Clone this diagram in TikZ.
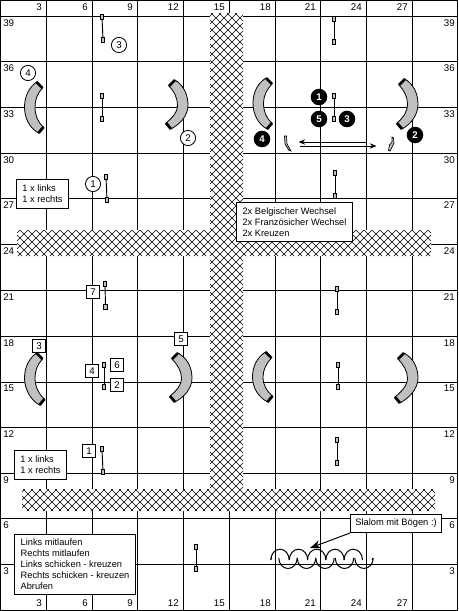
\documentclass[tikz,border=0pt]{standalone}
\usepackage{fontspec}
\setmainfont{Liberation Sans}
\usetikzlibrary{arrows.meta}
\definecolor{gatefill}{RGB}{192,192,192}
\tikzset{
  gridline/.style={line width=0.75pt,black},
  hatchline/.style={line width=0.45pt,black},
  axislabel/.style={inner sep=0pt,font=\fontsize{7.3}{9}\selectfont},
  postnode/.style={draw,fill=gatefill,line width=0.6pt,inner sep=0pt,minimum width=2.8pt,minimum height=3.8pt},
  barline/.style={line width=0.7pt,black},
  whitecircle/.style={circle,draw,fill=white,line width=0.6pt,inner sep=0pt,minimum size=11.4pt,font=\fontsize{7.3}{9}\selectfont},
  blackcircle/.style={circle,fill=black,text=white,inner sep=0pt,minimum size=12.4pt,font=\fontsize{7.3}{9}\selectfont\bfseries},
  squarebox/.style={draw,fill=white,line width=0.75pt,inner sep=0pt,minimum width=9.4pt,minimum height=10pt,font=\fontsize{7.3}{9}\selectfont},
  notebox/.style={draw,fill=white,line width=0.75pt,inner sep=0pt,align=left,anchor=north west,font=\fontsize{6.95}{8.25}\selectfont},
  arrowline/.style={line width=0.75pt,-{Stealth[length=5pt,width=4pt]}},
  wing/.style={draw=black,fill=gatefill,line width=0.5pt},
  tunnelbody/.style={draw=black,fill=gatefill,line width=0.6pt},
  tunnelcap/.style={line width=2.1pt,black},
  slalomline/.style={line width=0.75pt,black}
}
\newcommand{\mygate}[5]{%
  \node[postnode] (#1a) at (#2,#3) {};
  \node[postnode] (#1b) at (#4,#5) {};
  \draw[barline] (#1a) -- (#1b);
}
% x y dir bottom-outer-dx bottom-outer-dy top-outer-dx
\newcommand{\mytunnel}[6]{%
  \begin{scope}[shift={(#1,#2)},xscale=#3]
    \draw[tunnelbody] (#6,-25) .. controls (5,-20) and (0,-11) .. (0,0)
      .. controls (0,11) and (#4-9,#5-5) .. (#4,#5)
      -- (#4+5,#5-6) .. controls (#4-1,#5-11) and (10.5,8) .. (10.5,0)
      .. controls (10.5,-7) and (#6+1,-14) .. (#6+6,-19) -- cycle;
    \draw[tunnelcap] (#6,-25) -- (#6+6,-19);
    \draw[tunnelcap] (#4,#5) -- (#4+5,#5-6);
  \end{scope}
}
\begin{document}
\begin{tikzpicture}[x=0.75pt,y=-0.75pt]
\useasboundingbox (0,0) rectangle (458,611);
\fill[white] (0,0) rectangle (458,611);
% grid
\foreach \gx in {46,92,137,183,229,275,320,366,412} \draw[gridline] (\gx,0) -- (\gx,610.5);
\foreach \gy in {16,61,107,153,198,244,290,336,382,427,473,518,564} \draw[gridline] (0,\gy) -- (458,\gy);
\draw[gridline] (0.4,0.4) rectangle (457.6,610.5);
% hatch
\fill[white] (210,13) rectangle (243,511) (17,230) rectangle (431,256) (22,489) rectangle (435,511);
\begin{scope}
  \clip (210,13) rectangle (243,511) (17,230) rectangle (431,256) (22,489) rectangle (435,511);
  \foreach \k in {0,...,135} {
    \draw[hatchline] (\k*8+2,0) -- (\k*8+2-611,611);
    \draw[hatchline] (\k*8-610,0) -- (\k*8-610+611,611);
  }
\end{scope}
% axis labels
\foreach \ax/\at in {46/3,92/6,137/9,183/12,229/15,275/18,320/21,366/24,412/27} {
  \node[axislabel,anchor=east] at (\ax-4,7) {\at};
  \node[axislabel,anchor=east] at (\ax-4,603) {\at};
}
\foreach \ay/\at in {23/39,68/36,114/33,160/30,205/27,251/24,297/21,343/18,388/15,434/12,480/9,525/6,571/3} {
  \node[axislabel,anchor=west] at (3,\ay) {\at};
  \node[axislabel,anchor=east] at (455,\ay) {\at};
}
% tunnels
\mytunnel{24.5}{107}{1}{14}{26}{12}
\mytunnel{188}{105}{-1}{17}{24}{13}
\mytunnel{253}{103}{1}{14}{26}{13}
\mytunnel{418}{104}{-1}{16}{25}{13}
\mytunnel{24.5}{378}{1}{15}{27}{12}
\mytunnel{192}{378}{-1}{17}{24}{14}
\mytunnel{252.5}{377}{1}{15}{25}{13}
\mytunnel{418}{378}{-1}{18}{25}{14}
% gates
\mygate{ga}{102}{17}{103}{40}
\mygate{gb}{102}{96}{102}{119}
\mygate{gc}{106}{177}{107}{200}
\mygate{gd}{334}{19}{334}{42}
\mygate{ge}{334}{96}{334}{119}
\mygate{gf}{335}{173}{335}{196}
\mygate{gg}{105}{284}{105.5}{307}
\mygate{gh}{104}{365}{104}{387}
\mygate{gi}{102}{449}{103}{472}
\mygate{gj}{337}{289}{337}{312}
\mygate{gk}{338}{365}{338}{387}
\mygate{gl}{337}{440}{337}{463}
\mygate{gm}{196}{547}{196}{569}
% wings
\draw[wing] (284.5,136) -- (286.5,136) -- (287,144) -- (291,151) -- (289,150.5) -- (285,144) -- cycle;
\draw[wing] (392,137) -- (393.5,138) -- (394,143) -- (390,151) -- (388.5,150.5) -- (389.5,145) -- (392,142) -- cycle;
% arrows
\coordinate (atopa) at (367,142);
\coordinate (atopb) at (298.5,142);
\coordinate (abota) at (300,146);
\coordinate (abotb) at (376.5,146);
\draw[arrowline] (atopa) -- (atopb);
\draw[arrowline] (abota) -- (abotb);
% white circles
\node[whitecircle] (wc3) at (119,45) {3};
\node[whitecircle] (wc4) at (28,73) {4};
\node[whitecircle] (wc2) at (188,138) {2};
\node[whitecircle] (wc1) at (93,184) {1};
% black circles
\node[blackcircle] (bc1) at (319,97) {1};
\node[blackcircle] (bc5) at (319,119) {5};
\node[blackcircle] (bc3) at (347,119) {3};
\node[blackcircle] (bc4) at (262,139) {4};
\node[blackcircle] (bc2) at (415,135) {2};
% squares
\node[squarebox] (sq7) at (93,292) {7};
\node[squarebox] (sq3) at (39,346) {3};
\node[squarebox] (sq5) at (181,339) {5};
\node[squarebox] (sq6) at (117,365) {6};
\node[squarebox] (sq2) at (117,385) {2};
\node[squarebox] (sq4) at (92,371) {4};
\node[squarebox] (sq1) at (89,451) {1};
% slalom
\foreach \cc in {280,298.5,316.7,335,353.3}
  \draw[slalomline] (\cc-9.2,560) arc[start angle=180,end angle=0,x radius=9.2,y radius=-10.8];
\foreach \cc in {288,306.5,325,344.5,364}
  \draw[slalomline] (\cc-9.2,558) arc[start angle=180,end angle=360,x radius=9.2,y radius=-10.5];
\draw[slalomline] (270.8,560) -- (271.5,557);
\draw[slalomline] (373.2,558) -- (372,560);
% note boxes
\node[notebox,minimum width=39pt,minimum height=21.75pt] (na) at (16,179) {1 x links\\1 x rechts};
\node[notebox,minimum width=39pt,minimum height=21.75pt] (nb) at (14,450) {1 x links\\1 x rechts};
\node[notebox,minimum width=87pt,minimum height=29.25pt] (nc) at (236,202) {2x Belgischer Wechsel\\2x Französicher Wechsel\\2x Kreuzen};
\node[notebox,minimum width=90.75pt,minimum height=45pt] (nd) at (14,534) {Links mitlaufen\\Rechts mitlaufen\\Links schicken - kreuzen\\Rechts schicken - kreuzen\\Abrufen};
\node[draw,fill=white,line width=0.75pt,inner sep=0pt,minimum width=68.25pt,minimum height=13.5pt,font=\fontsize{7}{9}\selectfont,anchor=north west] (ne) at (350,514) {Slalom mit Bögen :)};
\coordinate (sltip) at (310,548);
\draw[line width=0.75pt,-{Stealth[length=8pt,width=6pt]}] (ne.south west) -- (sltip);
\end{tikzpicture}
\end{document}
